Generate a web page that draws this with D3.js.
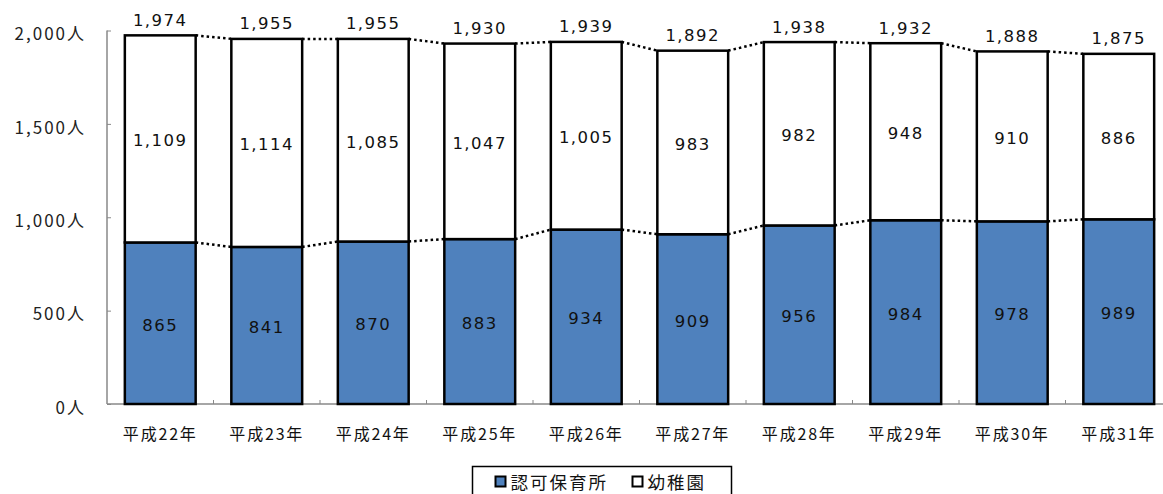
<!DOCTYPE html>
<html><head><meta charset="utf-8">
<script src="https://cdn.jsdelivr.net/npm/d3@7"></script>
<style>body{margin:0;background:#fff;}svg{display:block;font-family:"DejaVu Sans","Noto Sans CJK JP",sans-serif;}</style>
</head><body>
<svg id="c" width="1163" height="494"></svg>
<script>
const categories = ["平成22年","平成23年","平成24年","平成25年","平成26年","平成27年","平成28年","平成29年","平成30年","平成31年"];
const nursery = [865,841,870,883,934,909,956,984,978,989];
const kindergarten = [1109,1114,1085,1047,1005,983,982,948,910,886];
const totals = [1974,1955,1955,1930,1939,1892,1938,1932,1888,1875];
const yTicks = [0,500,1000,1500,2000];
const seriesNames = ["認可保育所","幼稚園"];
const colors = ["#4f81bd","#ffffff"];

const svg = d3.select("#c");
const x0 = 107, x1 = 1172, yTop = 30.5, yBot = 404;
const x = d3.scaleBand().domain(categories).range([x0,x1]).paddingInner(0.335).paddingOuter(0.1675);
const y = d3.scaleLinear().domain([0,2000]).range([yBot,yTop]);

const fmt = d3.format(",");
const data = categories.map((c,i)=>({c, a:nursery[i], b:kindergarten[i], t:totals[i]}));

// axes
const yAxis = d3.axisLeft(y).tickValues(yTicks).tickSize(-4).tickPadding(21).tickFormat(d=>fmt(d)+"人");
const gy = svg.append("g").attr("transform",`translate(${x0},0)`).call(yAxis);
gy.select(".domain").attr("stroke","#888").attr("stroke-width",1.5).attr("d",`M0,${yTop}V${yBot}`);
gy.selectAll(".tick line").attr("stroke","#888").attr("x2",4);
gy.selectAll(".tick text").attr("font-size",17).attr("fill","#222").attr("x",-21).attr("dy","0.55em")
  .attr("font-family","'Noto Sans CJK JP',sans-serif").attr("letter-spacing",2);

const gx = svg.append("g").attr("transform",`translate(0,${yBot})`);
gx.append("line").attr("x1",x0).attr("x2",x1).attr("stroke","#888").attr("stroke-width",1.5);
const step = x.step();
gx.selectAll("line.t").data(categories.slice(1)).join("line")
  .attr("x1",(d)=>x(d)-x.paddingInner()*step/2).attr("x2",(d)=>x(d)-x.paddingInner()*step/2)
  .attr("y1",0).attr("y2",-4).attr("stroke","#888");
gx.selectAll("text").data(categories).join("text")
  .attr("x",d=>x(d)+x.bandwidth()/2).attr("y",36).attr("text-anchor","middle")
  .attr("font-family","'Noto Sans CJK JP',sans-serif").attr("letter-spacing",1.8)
  .attr("font-size",16).attr("fill","#111").text(d=>d);

// connector dotted lines
const conn = (key)=>{
  for(let i=0;i<data.length-1;i++){
    const v1 = key==="a"?data[i].a:data[i].t, v2 = key==="a"?data[i+1].a:data[i+1].t;
    svg.append("line").attr("x1",x(data[i].c)+x.bandwidth()).attr("y1",y(v1))
      .attr("x2",x(data[i+1].c)).attr("y2",y(v2))
      .attr("stroke","#000").attr("stroke-width",2.5).attr("stroke-dasharray","2.5,3");
  }
};
conn("a"); conn("t");

// bars
const g = svg.append("g");
g.selectAll("rect.a").data(data).join("rect")
  .attr("x",d=>x(d.c)).attr("width",x.bandwidth())
  .attr("y",d=>y(d.a)).attr("height",d=>y(0)-y(d.a))
  .attr("fill",colors[0]).attr("stroke","#000").attr("stroke-width",2.5);
g.selectAll("rect.b").data(data).join("rect")
  .attr("x",d=>x(d.c)).attr("width",x.bandwidth())
  .attr("y",d=>y(d.t)).attr("height",d=>y(d.a)-y(d.t))
  .attr("fill",colors[1]).attr("stroke","#000").attr("stroke-width",2.5);

// labels
const lbl = (sel, yf, txt) => sel.attr("x",d=>x(d.c)+x.bandwidth()/2).attr("y",yf)
  .attr("text-anchor","middle").attr("dominant-baseline","central").attr("font-size",16.5)
  .attr("letter-spacing",1.5).attr("fill","#111").text(txt);
lbl(svg.append("g").selectAll("text").data(data).join("text"), d=>y(d.a/2)+2, d=>fmt(d.a));
lbl(svg.append("g").selectAll("text").data(data).join("text"), d=>(y(d.a)+y(d.t))/2+2, d=>fmt(d.b));
lbl(svg.append("g").selectAll("text").data(data).join("text"), d=>y(d.t)-15, d=>fmt(d.t));

// legend
const lg = svg.append("g");
lg.append("rect").attr("x",472.5).attr("y",466.5).attr("width",259).attr("height",40).attr("fill","#fff").attr("stroke","#000").attr("stroke-width",1.5);
const items = [{n:seriesNames[0],c:colors[0],x:495.5},{n:seriesNames[1],c:colors[1],x:632.5}];
items.forEach(it=>{
  lg.append("rect").attr("x",it.x).attr("y",476.5).attr("width",10).attr("height",10).attr("fill",it.c).attr("stroke","#000").attr("stroke-width",2);
  lg.append("text").attr("x",it.x+15).attr("y",481.5).attr("dominant-baseline","central").attr("font-size",17.5)
    .attr("font-family","'Noto Sans CJK JP',sans-serif").attr("letter-spacing",2).attr("fill","#111").text(it.n);
});
</script>
</body></html>
